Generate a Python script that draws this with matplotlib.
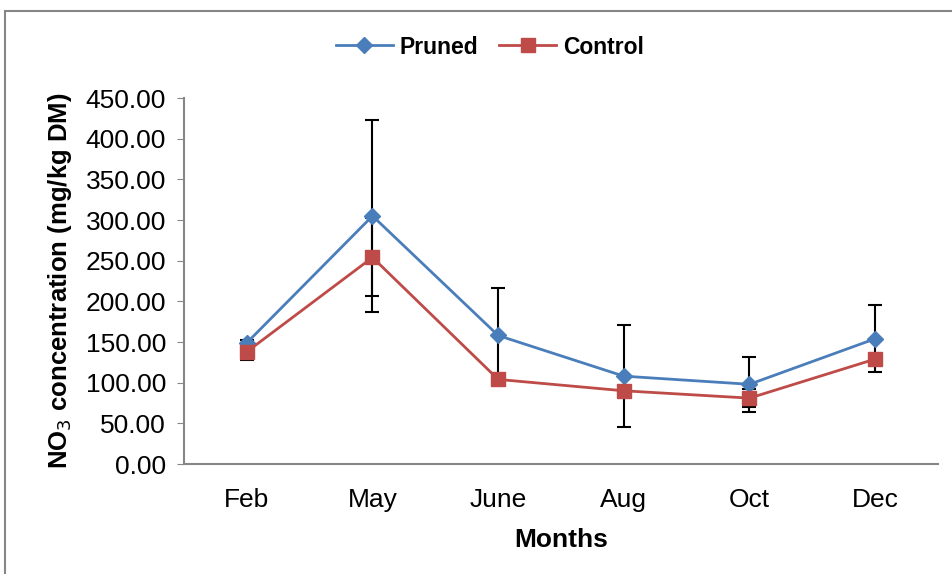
import matplotlib
matplotlib.use('Agg')
import matplotlib.pyplot as plt
from matplotlib.patches import Rectangle

# Data
months = ["Feb", "May", "June", "Aug", "Oct", "Dec"]
pruned = [149, 305, 158, 108, 98, 154]
pruned_err = [3, 118, 59, 63, 34, 41]
control = [138, 254, 104, 90, 81, 129]
control_err = [10, 48, 4, 6, 11, 6]

plt.rcParams['font.family'] = ['Liberation Sans', 'DejaVu Sans']

fig = plt.figure(figsize=(9.53, 5.74), dpi=100)
ax = fig.add_axes([184 / 953, 1 - 464 / 574, (938 - 184) / 953, (464 - 98) / 574])

x = list(range(len(months)))

# error bars first so lines sit on top
ax.errorbar(x, pruned, yerr=pruned_err, fmt='none', ecolor='black',
            elinewidth=1.5, capsize=5, capthick=1.5, zorder=2)
ax.errorbar(x, control, yerr=control_err, fmt='none', ecolor='black',
            elinewidth=1.5, capsize=5, capthick=1.5, zorder=2)

ax.plot(x, pruned, color='#4a7ebb', lw=2, marker='D', markersize=8,
        label='Pruned', zorder=3)
ax.plot(x, control, color='#be4b48', lw=2, marker='s', markersize=10,
        label='Control', zorder=4)

ax.set_xlim(-0.5, 5.5)
ax.set_ylim(0, 450)
ax.set_yticks(range(0, 451, 50))
ax.set_yticklabels([f"{v:.2f}" for v in range(0, 451, 50)])
ax.set_xticks(x)
ax.set_xticklabels(months)

ax.tick_params(axis='y', labelsize=19, length=5, color='#868686', pad=8)
ax.tick_params(axis='x', labelsize=19, length=0, pad=17)

for s in ['top', 'right']:
    ax.spines[s].set_visible(False)
for s in ['left', 'bottom']:
    ax.spines[s].set_color('#868686')
    ax.spines[s].set_linewidth(1.5)

ax.set_xlabel("Months", fontsize=19, fontweight='bold', labelpad=12)
ax.set_ylabel("NO$_3$ concentration (mg/kg DM)", fontsize=18.5,
              fontweight='bold')
ax.yaxis.set_label_coords((74 - 184) / 754, 0.5)

leg = fig.legend(loc='center', bbox_to_anchor=(490 / 953, 1 - 47 / 574),
                 ncol=2, frameon=False, prop={'weight': 'bold', 'size': 16.5},
                 handlelength=2.5, columnspacing=0.9, handletextpad=0.3)

# outer chart border
fig.patches.append(Rectangle((5 / 953, -0.05), 1.0, 1 - 11 / 574 + 0.05,
                             transform=fig.transFigure, fill=False,
                             edgecolor='#868686', lw=1.5))

fig.savefig("out.png", dpi=100)
